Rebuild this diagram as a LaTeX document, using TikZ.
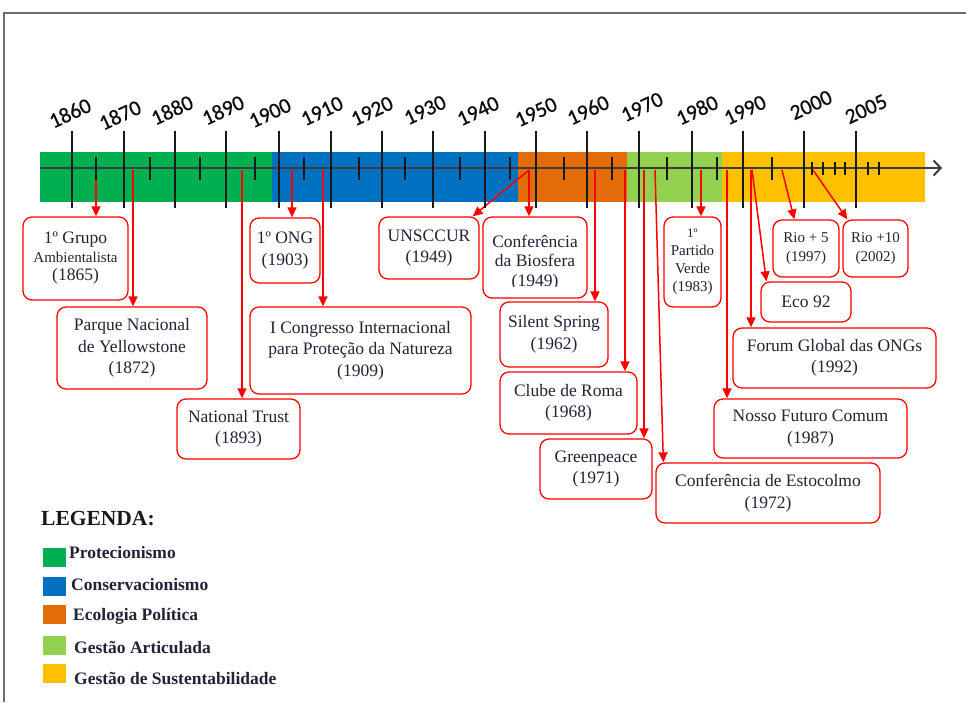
\documentclass[tikz,border=0pt]{standalone}
\usepackage{fontspec}
\setmainfont{Liberation Serif}
\newfontfamily\yearfont[FakeBold=0.8]{Carlito}
\usetikzlibrary{arrows.meta,calc}
\definecolor{cprot}{RGB}{0,176,80}
\definecolor{ccons}{RGB}{0,112,192}
\definecolor{ceco}{RGB}{226,107,10}
\definecolor{cart}{RGB}{146,208,80}
\definecolor{csus}{RGB}{255,192,0}
\definecolor{txt}{RGB}{35,35,55}
\definecolor{axisgray}{RGB}{60,60,60}
\definecolor{framegray}{RGB}{110,110,110}
\begin{document}
\begin{tikzpicture}[x=1pt,y=-1pt,
  evbox/.style={draw=red, line width=1.3pt, rounded corners=9pt, fill=white, text=txt,
    align=center, inner sep=0pt, font=\fontsize{17.5}{21.5}\selectfont},
  evarrow/.style={red, line width=1.5pt, -{Triangle[length=10pt,width=9pt]}},
  yearlbl/.style={font=\yearfont\fontsize{21.5}{21.5}\selectfont, rotate=25, text=black!95, inner sep=0pt},
  majortick/.style={line width=2pt, black!90},
  minortick/.style={line width=2pt, black!90},
  tinytick/.style={line width=1.4pt, black!90},
  legsq/.style={minimum width=23pt, minimum height=19pt, inner sep=0pt},
  legtxt/.style={font=\bfseries\fontsize{17.5}{17.5}\selectfont, text=txt, anchor=west, inner sep=0pt},
]
\useasboundingbox (0,0) rectangle (966,702);
% frame
\draw[framegray, line width=1.6pt] (4,702) -- (4,13) -- (966,13);

% colour band
\fill[cprot] (40,152) rectangle (272,202);
\fill[ccons] (272,152) rectangle (518,202);
\fill[ceco]  (518,152) rectangle (627,202);
\fill[cart]  (627,152) rectangle (722,202);
\fill[csus]  (722,152) rectangle (925,202);

% event boxes
\node[evbox, minimum width=105pt, minimum height=83pt] (grupo) at (75.5,258.5)
  {1º Grupo\\[-3pt]{\fontsize{15}{17}\selectfont Ambientalista}\\[-3pt](1865)};
\node[evbox, minimum width=150pt, minimum height=82pt] (parque) at (132,348)
  {Parque Nacional\\de Yellowstone\\(1872)};
\node[evbox, minimum width=123pt, minimum height=60pt] (trust) at (238.5,429)
  {National Trust\\(1893)};
\node[evbox, minimum width=70pt, minimum height=65pt] (ong) at (285,250.5)
  {1º ONG\\(1903)};
\node[evbox, minimum width=221pt, minimum height=87pt] (congresso) at (360.5,350.5)
  {I Congresso Internacional\\para Proteção da Natureza\\(1909)};
\node[evbox, minimum width=100pt, minimum height=62pt] (unsccur) at (429,248)
  {UNSCCUR\\(1949)};
\node[evbox, minimum width=104pt, minimum height=81pt] (biosfera) at (535,257.5) {};
\begin{scope}
  \clip (483,217) rectangle (587,286.5);
  \node[align=center, text=txt, inner sep=0pt, font=\fontsize{17.5}{19.5}\selectfont] (biosferatxt) at (535,262.5)
    {Conferência\\da Biosfera\\(1949)};
\end{scope}
\node[evbox, minimum width=108pt, minimum height=65pt] (silent) at (554,334.5)
  {Silent Spring\\(1962)};
\node[evbox, minimum width=137pt, minimum height=62pt] (clube) at (568.5,403)
  {Clube de Roma\\(1968)};
\node[evbox, minimum width=112pt, minimum height=60pt] (greenpeace) at (596,469)
  {Greenpeace\\(1971)};
\node[evbox, minimum width=57pt, minimum height=90pt, font=\fontsize{15}{18}\selectfont] (verde) at (692.5,262)
  {{\fontsize{13}{15}\selectfont 1º}\\Partido\\Verde\\(1983)};
\node[evbox, minimum width=66pt, minimum height=57pt, font=\fontsize{15}{19}\selectfont] (rio5) at (806,248.5)
  {Rio + 5\\(1997)};
\node[evbox, minimum width=65pt, minimum height=57pt, font=\fontsize{15}{19}\selectfont] (rio10) at (875.5,248.5)
  {Rio +10\\(2002)};
\node[evbox, minimum width=90pt, minimum height=40pt] (eco) at (806,302)
  {Eco 92};
\node[evbox, minimum width=203pt, minimum height=60pt] (forum) at (834.5,358)
  {Forum Global das ONGs\\(1992)};
\node[evbox, minimum width=193pt, minimum height=59pt] (nosso) at (810.5,428.5)
  {Nosso Futuro Comum\\(1987)};
\node[evbox, minimum width=224pt, minimum height=60pt] (estocolmo) at (768,493)
  {Conferência de Estocolmo\\(1972)};

% arrow start points on the axis
\coordinate (a1865) at (96,172);
\coordinate (a1872) at (133,170);
\coordinate (a1893) at (242,170);
\coordinate (a1903) at (292,170);
\coordinate (a1909) at (323,170);
\coordinate (a1949) at (529,170);
\coordinate (a1962) at (595,170);
\coordinate (a1968) at (625,170);
\coordinate (a1971) at (644,170);
\coordinate (a1972) at (655,170);
\coordinate (a1983) at (701,170);
\coordinate (a1987) at (727,170);
\coordinate (a1992) at (751,170);
\coordinate (a1992b) at (752,170);
\coordinate (a1997) at (782,170);
\coordinate (a2002) at (813,170);

% red arrows
\draw[evarrow] (a1865) -- (a1865 |- grupo.north);
\draw[evarrow] (a1872) -- (a1872 |- parque.north);
\draw[evarrow] (a1893) -- (a1893 |- trust.north);
\draw[evarrow] (a1903) -- (a1903 |- ong.north);
\draw[evarrow] (a1909) -- (a1909 |- congresso.north);
\draw[evarrow] (a1949) -- ([xshift=-7pt]unsccur.north east);
\draw[evarrow] (a1949) -- (a1949 |- biosfera.north);
\draw[evarrow] (a1962) -- (a1962 |- silent.north);
\draw[evarrow] (a1968) -- (a1968 |- clube.north);
\draw[evarrow] (a1971) -- (a1971 |- greenpeace.north);
\draw[evarrow] (a1972) -- ([xshift=8pt]estocolmo.north west);
\draw[evarrow] (a1983) -- (a1983 |- verde.north);
\draw[evarrow] (a1987) -- (a1987 |- nosso.north);
\draw[evarrow] (a1992) -- (a1992 |- forum.north);
\draw[evarrow] (a1992b) -- ([xshift=6pt]eco.north west);
\draw[evarrow] (a1997) -- ([xshift=22pt]rio5.north west);
\draw[evarrow] (a2002) -- ([xshift=5pt]rio10.north west);

% axis
\draw[axisgray, line width=2.5pt, -{Straight Barb[length=7pt,width=15pt,line width=2pt]}] (40,168) -- (942,168);

% ticks
\foreach \x in {72,124,175,226,279,331,382,433,485,536,587,639,692,743,804,856}
  \draw[majortick] (\x,131) -- (\x,208);
\foreach \x in {96,150,200,255,304,359,405,460,510,564,612,667,717,772}
  \draw[minortick] (\x,157) -- (\x,180);
\foreach \x in {812,823,835,845,868,879}
  \draw[tinytick] (\x,162) -- (\x,175);

% year labels
\foreach \yr/\x/\y in {1860/70/113,1870/120/115,1880/172/110,1890/223/110,1900/270/113,
  1910/322/111,1920/372/111,1930/425/110,1940/478/111,1950/536/112,1960/588/110,
  1970/642/107,1980/697/110,1990/745/110,2000/811/105,2005/866/109}
  \node[yearlbl] (y\yr) at (\x,\y) {\yr};

% legend
\node[font=\bfseries\fontsize{21.5}{21.5}\selectfont, text=black!90, anchor=west, inner sep=0pt] (legenda) at (41,519) {LEGENDA:};
\node[legsq, fill=cprot] (sq1) at (54.5,557) {};
\node[legsq, fill=ccons] (sq2) at (54.5,586.5) {};
\node[legsq, fill=ceco]  (sq3) at (54.5,614) {};
\node[legsq, fill=cart]  (sq4) at (54.5,645.5) {};
\node[legsq, fill=csus]  (sq5) at (54.5,673.5) {};
\node[legtxt] (l1) at (69,553) {Protecionismo};
\node[legtxt] (l2) at (71,585) {Conservacionismo};
\node[legtxt] (l3) at (73,616) {Ecologia Política};
\node[legtxt] (l4) at (74,647) {Gestão Articulada};
\node[legtxt] (l5) at (74,678) {Gestão de Sustentabilidade};
\end{tikzpicture}
\end{document}
